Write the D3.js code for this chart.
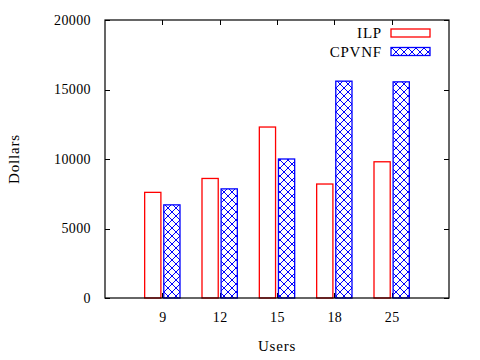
<!DOCTYPE html>
<html>
<head>
<meta charset="utf-8">
<script src="https://cdn.jsdelivr.net/npm/d3@7"></script>
<style>
  body { margin: 0; background: #fff; }
  text { font-family: "Liberation Serif", "Times New Roman", serif; font-size: 15px; fill: #000; }
</style>
</head>
<body>
<div id="chart"></div>
<script>
// data
const users = ['9', '12', '15', '18', '25'];
const seriesNames = ['ILP', 'CPVNF'];
const ilp = [7600, 8600, 12300, 8200, 9800];
const cpvnf = [6700, 7850, 10000, 15600, 15550];
const yTicks = [0, 5000, 10000, 15000, 20000];

const w = 480, h = 360;
const plotLeft = 105, plotRight = 449, plotTop = 20, plotBottom = 298;

const svg = d3.select('#chart').append('svg')
  .attr('width', w)
  .attr('height', h);

// crosshatch pattern
const defs = svg.append('defs');
const pat = defs.append('pattern')
  .attr('id', 'hatch')
  .attr('patternUnits', 'userSpaceOnUse')
  .attr('width', 8)
  .attr('height', 8);
pat.append('rect').attr('width', 8).attr('height', 8).attr('fill', '#fff');
pat.append('path')
  .attr('d', 'M0,0L8,8M8,0L0,8')
  .attr('stroke', '#0000ff')
  .attr('stroke-width', 1)
  .attr('shape-rendering', 'crispEdges')
  .attr('fill', 'none');

// scales: categories sit at 0..4, axis spans -1..5
const xScale = d3.scaleLinear().domain([-1, 5]).range([plotLeft, plotRight]);
const yScale = d3.scaleLinear().domain([0, 20000]).range([plotBottom, plotTop]);

const unit = xScale(1) - xScale(0);
const barW = unit * 0.283;
const offset = unit / 6;

// y axis
const yAxis = d3.axisLeft(yScale).tickValues(yTicks).tickSize(-5).tickPadding(14).tickFormat(d3.format('d'));
const gy = svg.append('g').attr('transform', 'translate(' + plotLeft + ',0)').call(yAxis);
gy.select('.domain').remove();
gy.selectAll('text').style('font-size', '14px').style('letter-spacing', '0.4px');

// mirrored right ticks
svg.append('g').attr('transform', 'translate(' + plotRight + ',0)')
  .call(d3.axisRight(yScale).tickValues(yTicks).tickSize(-5).tickFormat(''))
  .select('.domain').remove();

// x axis
const xAxis = d3.axisBottom(xScale).tickValues(d3.range(users.length)).tickSize(-5).tickPadding(14)
  .tickFormat(i => users[i]);
const gx = svg.append('g').attr('transform', 'translate(0,' + plotBottom + ')').call(xAxis);
gx.select('.domain').remove();
gx.selectAll('text').style('font-size', '14px').style('letter-spacing', '0.4px');

svg.append('g').attr('transform', 'translate(0,' + plotTop + ')')
  .call(d3.axisTop(xScale).tickValues(d3.range(users.length)).tickSize(-5).tickFormat(''))
  .select('.domain').remove();

svg.selectAll('.tick line').attr('shape-rendering', 'crispEdges');

// bars
svg.append('g').selectAll('rect')
  .data(ilp)
  .enter()
  .append('rect')
  .attr('x', (d, i) => xScale(i) - offset - barW / 2)
  .attr('y', d => yScale(d))
  .attr('width', barW)
  .attr('height', d => plotBottom - yScale(d))
  .attr('fill', '#fff')
  .attr('stroke', '#ff0000')
  .attr('stroke-width', 1.3);

svg.append('g').selectAll('rect')
  .data(cpvnf)
  .enter()
  .append('rect')
  .attr('x', (d, i) => xScale(i) + offset - barW / 2)
  .attr('y', d => yScale(d))
  .attr('width', barW)
  .attr('height', d => plotBottom - yScale(d))
  .attr('fill', 'url(#hatch)')
  .attr('stroke', '#0000ff')
  .attr('stroke-width', 1.3);

// frame
svg.append('rect')
  .attr('x', plotLeft).attr('y', plotTop)
  .attr('width', plotRight - plotLeft).attr('height', plotBottom - plotTop)
  .attr('fill', 'none').attr('stroke', '#000').attr('stroke-width', 1.2);

// legend
const legend = svg.append('g');
const legendFills = ['#fff', 'url(#hatch)'];
const legendStrokes = ['#ff0000', '#0000ff'];
seriesNames.forEach((name, i) => {
  const y = 33 + i * 18.5;
  legend.append('text')
    .attr('x', 382).attr('y', y + 5)
    .attr('text-anchor', 'end')
    .style('letter-spacing', '0.8px')
    .text(name);
  legend.append('rect')
    .attr('x', 391).attr('y', y - 4)
    .attr('width', 39).attr('height', 8)
    .attr('fill', legendFills[i])
    .attr('stroke', legendStrokes[i])
    .attr('stroke-width', 1.3);
});

// axis labels
svg.append('text')
  .attr('x', 277).attr('y', 351)
  .attr('text-anchor', 'middle')
  .style('letter-spacing', '0.8px')
  .text('Users');
svg.append('text')
  .attr('transform', 'translate(19,159) rotate(-90)')
  .attr('text-anchor', 'middle')
  .style('letter-spacing', '0.8px')
  .text('Dollars');
</script>
</body>
</html>
